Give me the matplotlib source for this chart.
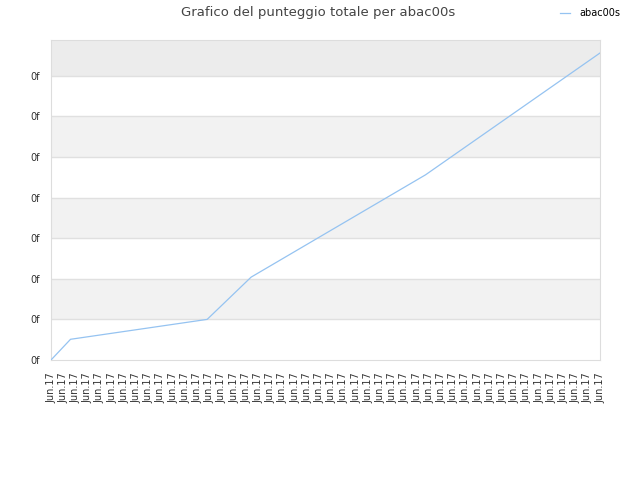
import numpy as np
import matplotlib.pyplot as plt

# total score over time (x in tick units, y in score units)
x_vals = [0.0, 1.6, 12.8, 16.4, 30.7, 45.0]
y_vals = [0.0, 0.51, 1.0, 2.04, 4.56, 7.56]
x_ticks = np.arange(46)
x_labels = ['Jun.17'] * len(x_ticks)
y_ticks = np.arange(8)
y_labels = ['0f'] * len(y_ticks)
series = 'abac00s'

fig = plt.figure(figsize=(6.4, 4.8), dpi=100)
ax = fig.add_axes([51/640, 1-360/480, 549/640, 320/480])

ymax = 7.88
# alternating bands
for lo in (1, 3, 5):
    ax.axhspan(lo, lo + 1, color='#f2f2f2', zorder=0, lw=0)
ax.axhspan(7, ymax, color='#ececec', zorder=0, lw=0)
for yt in y_ticks[1:]:
    ax.axhline(yt, color='#e0e0e0', lw=1, zorder=1)

line, = ax.plot(x_vals, y_vals, color='#95c3f1', lw=0.9, zorder=3, label=series)

ax.set_xlim(0, 45)
ax.set_ylim(0, ymax)
ax.set_xticks(x_ticks)
ax.set_xticklabels(x_labels, rotation=90, fontsize=7, color='#333333')
ax.set_yticks(y_ticks)
ax.set_yticklabels(y_labels, fontsize=7, color='#333333')
ax.tick_params(length=0)
ax.tick_params(axis='y', pad=8)
ax.tick_params(axis='x', pad=9)
for s in ax.spines.values():
    s.set_color('#dddddd')

fig.text(0.497, 0.974, 'Grafico del punteggio totale per abac00s', ha='center', va='center',
         fontsize=9.5, color='#444444')
fig.legend(handles=[line], labels=[series], loc='center left', bbox_to_anchor=(0.862, 0.972),
           frameon=False, fontsize=7, handlelength=1.0, handletextpad=0.9)

fig.savefig('out.png', dpi=100)
